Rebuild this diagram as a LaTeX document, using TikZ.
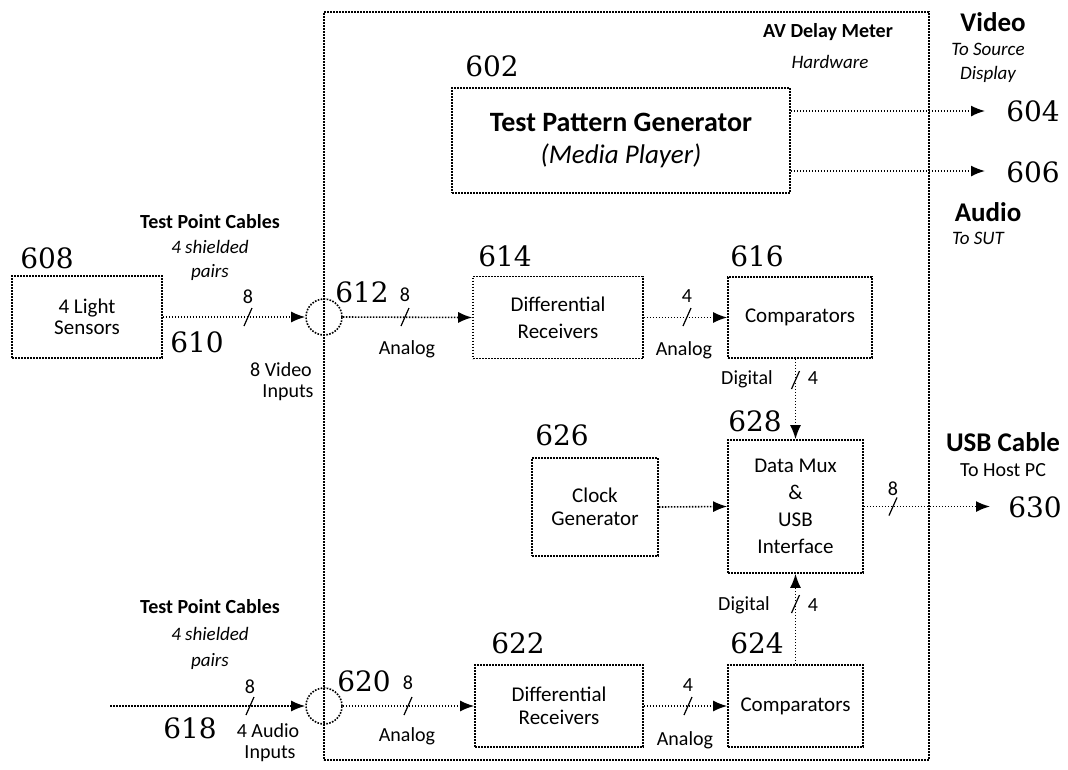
\documentclass[tikz,border=0pt]{standalone}
\usepackage{fontspec}
\setmainfont{Carlito}
\newfontfamily\numfont{DejaVu Serif}
\usetikzlibrary{arrows.meta}
\tikzset{
  dl/.style={dash pattern=on 1.6pt off 1.4pt, line width=1.6pt},
  box/.style={draw, dl, rectangle, align=center, inner sep=0pt, font=\fontsize{21}{27}\selectfont},
  num/.style={font=\numfont\fontsize{28}{30}\selectfont, inner sep=0pt},
  arr/.style={dl, -{Latex[length=14pt,width=11pt]}},
  sm/.style={font=\fontsize{20}{24}\selectfont, inner sep=0pt, align=center},
  smi/.style={font=\itshape\fontsize{19}{24}\selectfont, inner sep=0pt, align=center},
  smb/.style={font=\bfseries\fontsize{20}{24}\selectfont, inner sep=0pt, align=center},
  hdr/.style={font=\bfseries\fontsize{27}{30}\selectfont, inner sep=0pt},
  junction/.style={draw, dl, circle, minimum size=36pt, inner sep=0pt},
  pics/busmark/.style={code={\draw[line width=1.2pt] (-4,9) -- (4,-9);}}
}
\begin{document}
\begin{tikzpicture}[x=1pt,y=-1pt]
\useasboundingbox (0,0) rectangle (1068,769);

% outer enclosure
\node[draw, dl, minimum width=605, minimum height=748, inner sep=0pt] (avdm) at (626.5,386) {};
\node[smb] (avlab) at (828,32) {AV Delay Meter};
\node[smi] (hwlab) at (830,62) {Hardware};

% boxes
\node[box, minimum width=338, minimum height=105, font=\fontsize{27}{32}\selectfont] (tpg) at (621,140.5)
  {\bfseries\fontsize{28}{32}\selectfont Test Pattern Generator\\\itshape\mdseries\fontsize{27}{32}\selectfont (Media Player)};
\node[box, minimum width=150, minimum height=82, font=\fontsize{21}{21}\selectfont] (sens) at (87,317) {4 Light\\Sensors};
\node[box, minimum width=170, minimum height=82] (dr614) at (558,317.5) {Differential\\Receivers};
\node[box, minimum width=144, minimum height=81] (cmp616) at (800,317.5) {Comparators};
\node[box, minimum width=135, minimum height=133] (mux) at (795.5,506.5) {Data Mux\\\&\\USB\\Interface};
\node[box, minimum width=126, minimum height=98, font=\fontsize{21}{23}\selectfont] (clk) at (595,507) {Clock\\Generator};
\node[box, minimum width=168, minimum height=82, font=\fontsize{21}{23}\selectfont] (dr622) at (559,706) {Differential\\Receivers};
\node[box, minimum width=135, minimum height=82] (cmp624) at (795.5,706) {Comparators};

% junctions
\node[junction] (c612) at (324,317) {};
\node[junction] (c620) at (324,706) {};

% free ends
\coordinate (o604) at (985,111);
\coordinate (o606) at (985,171);
\coordinate (o630) at (990,506.5);
\coordinate (in618) at (110,706);

% connectors
\draw[arr] ([yshift=29.5pt]tpg.east) -- (o604);
\draw[arr] ([yshift=-30.5pt]tpg.east) -- (o606);
\draw[arr] (sens.east) -- (c612.west);
\draw[arr] (in618) -- (c620.west);
\draw[arr] (c612.east) -- (dr614.west);
\draw[arr] (dr614.east) -- (cmp616.west);
\draw[arr] (cmp616.south -| mux.north) -- (mux.north);
\draw[arr] (clk.east) -- (mux.west);
\draw[arr] (cmp624.north) -- (mux.south);
\draw[arr] (c620.east) -- (dr622.west);
\draw[arr] (dr622.east) -- (cmp624.west);
\draw[arr] (mux.east) -- (o630);

% bus marks
\pic at (248,317) {busmark};
\pic at (405,317) {busmark};
\pic at (687,317) {busmark};
\pic at (795.5,380) {busmark};
\pic at (795.5,604) {busmark};
\pic at (250,706) {busmark};
\pic at (408,706) {busmark};
\pic at (688,706) {busmark};
\pic at (893,506.5) {busmark};

% reference numerals
\node[num] (n602) at (492,66) {602};
\node[num] (n604) at (1033,111) {604};
\node[num] (n606) at (1033,172) {606};
\node[num] (n608) at (47,258) {608};
\node[num] (n610) at (197,342) {610};
\node[num] (n612) at (362,292) {612};
\node[num] (n614) at (505,256) {614};
\node[num] (n616) at (757,256) {616};
\node[num] (n618) at (190,728) {618};
\node[num] (n620) at (364,681) {620};
\node[num] (n622) at (518,643) {622};
\node[num] (n624) at (757,643) {624};
\node[num] (n626) at (562,435) {626};
\node[num] (n628) at (755,421) {628};
\node[num] (n630) at (1035,507) {630};

% side headers
\node[hdr] (vid) at (993,22) {Video};
\node[smi] (tosrc) at (988,49) {To Source};
\node[smi] (disp) at (988,74) {Display};
\node[hdr] (aud) at (988,212) {Audio};
\node[smi] (tosut) at (978,238) {To SUT};
\node[hdr] (usb) at (1003,442) {USB Cable};
\node[sm] (tohost) at (1003,470) {To Host PC};

% cable labels
\node[smb] (tpc1) at (210,222) {Test Point Cables};
\node[smi] (sh1) at (210,247) {4 shielded};
\node[smi] (pr1) at (210,272) {pairs};
\node[sm] (b1) at (248,297) {8};
\node[sm] (vin) at (281,370) {8 Video};
\node[sm] (vin2) at (288,393) {Inputs};

\node[smb] (tpc2) at (210,607) {Test Point Cables};
\node[smi] (sh2) at (210,634) {4 shielded};
\node[smi] (pr2) at (210,661) {pairs};
\node[sm] (b2) at (250,687) {8};
\node[sm] (ain) at (268,731) {4 Audio};
\node[sm] (ain2) at (270,754) {Inputs};

\node[sm] (b612) at (405,295) {8};
\node[sm] (an612) at (407,349) {Analog};
\node[sm] (b614) at (687,296) {4};
\node[sm] (an614) at (684,350) {Analog};
\node[sm] (dig616) at (747,379) {Digital};
\node[sm] (b616) at (813,378) {4};

\node[sm] (b620) at (408,683) {8};
\node[sm] (an620) at (407,736) {Analog};
\node[sm] (b622) at (688,685) {4};
\node[sm] (an622) at (685,740) {Analog};
\node[sm] (dig624) at (744,605) {Digital};
\node[sm] (b624) at (813,605) {4};
\node[sm] (b630) at (893,489) {8};
\end{tikzpicture}
\end{document}
